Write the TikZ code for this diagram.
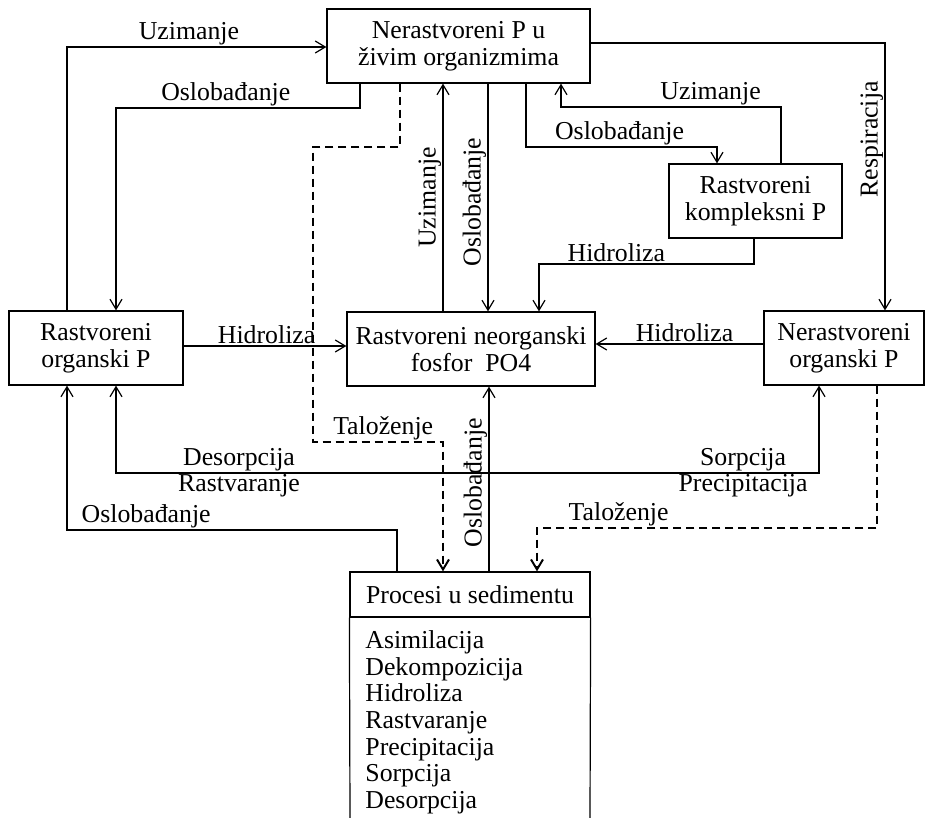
\documentclass[tikz,border=0pt]{standalone}
\usepackage{fontspec}
\setmainfont{Liberation Serif}
\usetikzlibrary{arrows.meta}
\begin{document}
\begin{tikzpicture}[x=0.5pt,y=-0.5pt,
  font=\fontsize{12.9}{13.35}\selectfont,
  box/.style={draw, line width=0.6pt, align=center, inner sep=0pt, minimum height=37pt},
  conn/.style={line width=0.6pt, -{Straight Barb[length=5pt,width=6pt]}},
  dconn/.style={conn, line width=1pt, dash pattern=on 4pt off 2.5pt},
  bconn/.style={line width=0.6pt, {Straight Barb[length=5pt,width=6pt]}-{Straight Barb[length=5pt,width=6pt]}},
  lab/.style={inner sep=0.6pt},
]
\useasboundingbox (0,0) rectangle (926,818);

% boxes
\node[box, minimum width=131.5pt] (T) at (458.5,46) {Nerastvoreni P u\\živim organizmima};
\node[box, minimum width=86.5pt] (K) at (755.5,201) {Rastvoreni\\kompleksni P};
\node[box, minimum width=87pt] (L) at (96,348) {Rastvoreni\\organski P};
\node[box, minimum width=124pt] (N) at (471,349) {Rastvoreni neorganski\\fosfor\ \ PO4};
\node[box, minimum width=80pt] (R) at (844,348) {Nerastvoreni\\organski P};
\node[box, minimum width=120pt, minimum height=22.5pt, text depth=0pt] (P) at (470,594.5) {Procesi u sedimentu};
\draw[line width=0.6pt] (P.south west) -- (350,818) (P.south east) -- (590,818);
\node[anchor=north west, align=left, inner sep=0pt] (PL) at (365,630)
  {Asimilacija\\Dekompozicija\\Hidroliza\\Rastvaranje\\Precipitacija\\Sorpcija\\Desorpcija};

% waypoints
\coordinate (w1a) at (67,47);
\coordinate (w2a) at (360,108); \coordinate (w2b) at (116,108);
\coordinate (w3a) at (400,147); \coordinate (w3b) at (313,147);
\coordinate (w3c) at (313,442); \coordinate (w3d) at (443,442);
\coordinate (w4) at (443,0);
\coordinate (w5) at (488,0);
\coordinate (w6a) at (526,147); \coordinate (w6b) at (717,147);
\coordinate (w7a) at (781,107); \coordinate (w7b) at (561,107);
\coordinate (w8a) at (885,43);
\coordinate (w9a) at (754,264); \coordinate (w9b) at (539,264);
\coordinate (w10) at (0,346);
\coordinate (w11) at (0,344);
\coordinate (w12a) at (116,473); \coordinate (w12b) at (819,473);
\coordinate (w13a) at (397,530); \coordinate (w13b) at (67,530);
\coordinate (w14) at (489,0);
\coordinate (w15a) at (877,528); \coordinate (w15b) at (537,528);

% connectors
\draw[conn] (L.north -| w1a) -- (w1a) -- node[lab, above, pos=0.47] {Uzimanje} (T.west |- w1a);
\draw[conn] (T.south -| w2a) -- (w2a) -- node[lab, above, pos=0.55] {Oslobađanje} (w2b) -- (L.north -| w2b);
\draw[dconn] (T.south -| w3a) -- (w3a) -- (w3b) -- (w3c) -- node[lab, above, pos=0.54] {Taloženje} (w3d) -- (P.north -| w3d);
\draw[conn] (N.north -| w4) -- node[lab, sloped, above, pos=0.5] {Uzimanje} (T.south -| w4);
\draw[conn] (T.south -| w5) -- node[lab, rotate=90, anchor=south, pos=0.52] {Oslobađanje} (N.north -| w5);
\draw[conn] (T.south -| w6a) -- (w6a) -- node[lab, above, pos=0.49] {Oslobađanje} (w6b) -- (K.north -| w6b);
\draw[conn] (K.north -| w7a) -- (w7a) -- node[lab, above, pos=0.32] {Uzimanje} (w7b) -- (T.south -| w7b);
\draw[conn] (T.east |- w8a) -- (w8a) -- node[lab, rotate=90, anchor=south, pos=0.36] {Respiracija} (R.north -| w8a);
\draw[conn] (K.south -| w9a) -- (w9a) -- node[lab, above, pos=0.64] {Hidroliza} (w9b) -- (N.north -| w9b);
\draw[conn] (L.east |- w10) -- node[lab, above, pos=0.51] {Hidroliza} (N.west |- w10);
\draw[conn] (R.west |- w11) -- node[lab, above, pos=0.47] {Hidroliza} (N.east |- w11);
\draw[bconn] (L.south -| w12a) -- (w12a)
  -- node[lab, above, pos=0.175] {Desorpcija} node[lab, below, pos=0.175] {Rastvaranje}
     node[lab, above, pos=0.892] {Sorpcija} node[lab, below, pos=0.892] {Precipitacija}
  (w12b) -- (R.south -| w12b);
\draw[conn] (P.north -| w13a) -- (w13a) -- node[lab, above, pos=0.76] {Oslobađanje} (w13b) -- (L.south -| w13b);
\draw[conn] (P.north -| w14) -- node[lab, sloped, above, pos=0.48] {Oslobađanje} (N.south -| w14);
\draw[dconn] (R.south -| w15a) -- (w15a) -- node[lab, above, pos=0.76] {Taloženje} (w15b) -- (P.north -| w15b);
\end{tikzpicture}
\end{document}
